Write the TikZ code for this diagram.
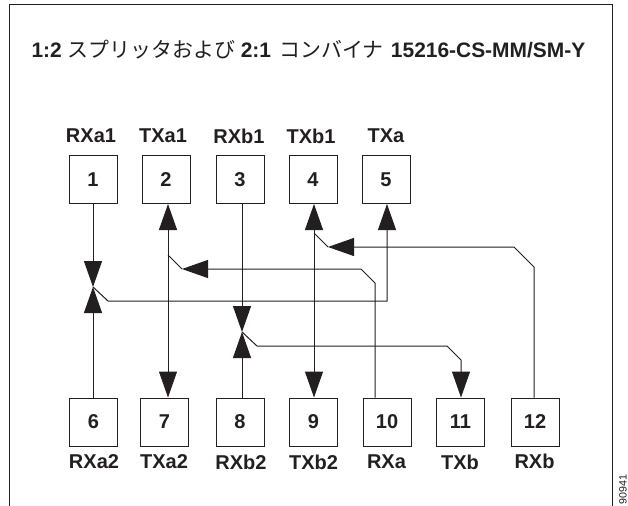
\documentclass[tikz,border=0pt]{standalone}
\usepackage{fontspec}
\usepackage{xcolor}
\usepackage{tikz}
\usetikzlibrary{arrows.meta}
\setmainfont{Liberation Sans}
\newfontfamily\cjkfont{Noto Sans CJK JP}
\definecolor{inkblack}{RGB}{35, 31, 32}

\begin{document}
\begin{tikzpicture}[
        x=0.75pt, y=-0.75pt,
        color=inkblack, line width=0.75pt,
        portbox/.style={rectangle, draw, minimum width=36pt, minimum height=36pt,
                    inner sep=0pt, font=\bfseries\fontsize{15}{17}\selectfont},
        lbl/.style={font=\bfseries\fontsize{15}{17}\selectfont, inner sep=0pt},
        ttl/.style={font=\bfseries\fontsize{15.7}{18}\selectfont, inner sep=0pt, anchor=base west},
        arr/.style={-{Triangle[length=19.5pt,width=13.5pt]}},
        arrboth/.style={{Triangle[length=19.5pt,width=13.5pt]}-{Triangle[length=19.5pt,width=13.5pt]}},
        stamp/.style={font=\fontsize{8}{9}\selectfont, inner sep=0pt, rotate=90, anchor=west},
      ]
        \useasboundingbox (0,0) rectangle (628,506);
        \draw (9,506) -- (9,5) -- (612.5,5) -- (612.5,506);
        \node[ttl] (title) at (31,57.3)
              {1:2 {\cjkfont\mdseries スプリッタおよび} 2:1\hspace{2pt} {\cjkfont\mdseries コンバイナ}\hspace{1pt} 15216-CS-MM/SM-Y};

        % upper row
        \node[portbox] (p1) at (93,179.5) {1};
        \node[portbox] (p2) at (166,179.5) {2};
        \node[portbox] (p3) at (240,179.5) {3};
        \node[portbox] (p4) at (313,179.5) {4};
        \node[portbox] (p5) at (386,179.5) {5};
        \node[lbl] (l1) at (91,136) {RXa1};
        \node[lbl] (l2) at (163,136) {TXa1};
        \node[lbl] (l3) at (239,136) {RXb1};
        \node[lbl] (l4) at (311,136) {TXb1};
        \node[lbl] (l5) at (386,136) {TXa};

        % lower row
        \node[portbox] (p6) at (93.5,422) {6};
        \node[portbox] (p7) at (164.5,422) {7};
        \node[portbox] (p8) at (240,422) {8};
        \node[portbox] (p9) at (313.5,422) {9};
        \node[portbox] (p10) at (387,422) {10};
        \node[portbox] (p11) at (460.5,422) {11};
        \node[portbox] (p12) at (535,422) {12};
        \node[lbl] (l6) at (94,462) {RXa2};
        \node[lbl] (l7) at (164,462) {TXa2};
        \node[lbl] (l8) at (241,462) {RXb2};
        \node[lbl] (l9) at (313.5,462) {TXb2};
        \node[lbl] (l10) at (386.5,462) {RXa};
        \node[lbl] (l11) at (460,462) {TXb};
        \node[lbl] (l12) at (534.5,461) {RXb};

        \coordinate (ja) at (93,287);
        \coordinate (jb) at (168,255);
        \coordinate (jc) at (242,332);
        \coordinate (jd) at (314,233);
        \coordinate (je) at (375,283);
        \coordinate (jf) at (461,360);
        \coordinate (jg) at (534,267);

        \draw[arr] (ja |- p1.south) -- (ja);
        \draw[arr] (ja |- p6.north) -- (ja);
        \draw[arr] (jc |- p3.south) -- (jc);
        \draw[arr] (jc |- p8.north) -- (jc);
        \draw[arrboth] (jb |- p2.south) -- (jb |- p7.north);
        \draw[arrboth] (jd |- p4.south) -- (jd |- p9.north);

        \draw[arr] (ja) -- ++(15,14) -- (387,301) -- (387,204);
        \draw[arr] (je |- p10.north) -- (je) -- (361,269) -- (182,269);
        \draw (182,269) -- (jb);
        \draw[arr] (jc) -- ++(15,14) -- (447,346) -- (jf) -- (jf |- p11.north);
        \draw[arr] (jg |- p12.north) -- (jg) -- (514,247) -- (328,247);
        \draw (328,247) -- (jd);

        \node[stamp] (code) at (623,505) {90941};
      \end{tikzpicture}
\end{document}
